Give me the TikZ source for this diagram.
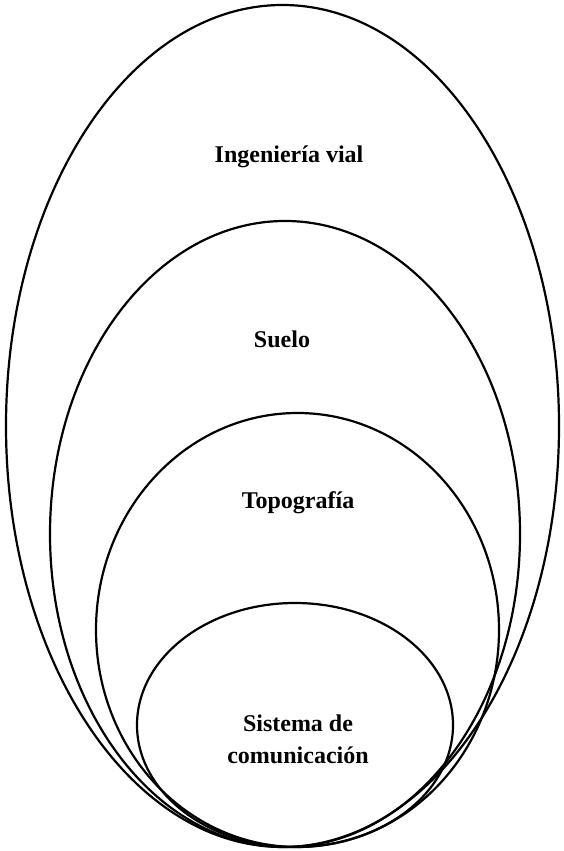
\documentclass[tikz,border=0pt]{standalone}
\usepackage{fontspec}
\setmainfont{Liberation Serif}
\begin{document}
\begin{tikzpicture}[x=1pt,y=1pt,line width=2.2pt]
\tikzset{lbl/.style={font=\fontsize{24}{32}\selectfont\bfseries,align=center,inner sep=0pt}}
\useasboundingbox (0,0) rectangle (563,851);
% nested areas, all touching at the bottom
\draw (282.5,425) ellipse (276.5 and 421);
\draw (285,317) ellipse (235 and 313);
\draw (297.5,221) ellipse (201.5 and 217);
\draw (295,126) ellipse (158 and 122);
\node[lbl] (vial) at (289,694) {Ingeniería vial};
\node[lbl] (suelo) at (282,512) {Suelo};
\node[lbl] (topo) at (298,348) {Topografía};
\node[lbl] (sis) at (298,112) {Sistema de\\comunicación};
\end{tikzpicture}
\end{document}
